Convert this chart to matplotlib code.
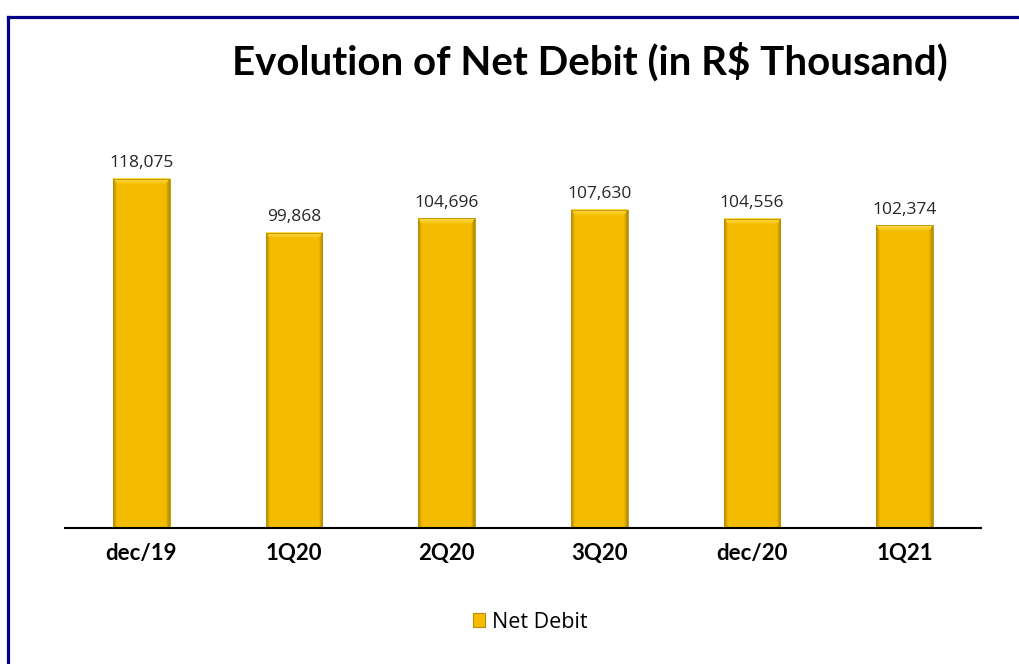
import matplotlib.pyplot as plt
import matplotlib.patches as mpatches
import numpy as np

periods = ['dec/19', '1Q20', '2Q20', '3Q20', 'dec/20', '1Q21']
net_debit = [118075, 99868, 104696, 107630, 104556, 102374]
labels = ['118,075', '99,868', '104,696', '107,630', '104,556', '102,374']

gold = '#F5BC00'

fig = plt.figure(figsize=(10.19, 6.64), dpi=100)
ax = fig.add_axes([65/1019, 136/664, 916/1019, 414/664])

x = np.arange(len(periods))
bars = ax.bar(x, net_debit, width=0.37, color=gold, edgecolor='#B98E00', linewidth=0.6, zorder=2)

# bevel look: darker sides, lighter top strip
for b in bars:
    nx, ny = 60, 300
    img = np.zeros((ny, nx, 4))
    base = np.array([0.96, 0.74, 0.0])
    img[:, :, :3] = base
    img[:, :, 3] = 1
    side = max(2, int(nx * 0.07))
    top = max(2, int(ny * 2300 / b.get_height()))
    for i in range(side):
        f = 0.75 + 0.25 * i / side
        img[:, i, :3] = base * f
        img[:, nx - 1 - i, :3] = base * f
    for j in range(top):
        f = j / top
        light = np.array([1.0, 0.86, 0.3]) * (1 - f) + base * f
        img[j, side - int(side * (1 - f)):nx - side + int(side * (1 - f)), :3] = light
    ax.imshow(img, extent=[b.get_x(), b.get_x() + b.get_width(), 0, b.get_height()],
              aspect='auto', origin='upper', zorder=3)
    b.set_zorder(4)
    b.set_facecolor('none')

for xi, v, lab in zip(x, net_debit, labels):
    ax.text(xi, v + 2600, lab, ha='center', va='bottom', fontsize=12.5,
            family='Open Sans', color='#262626')

ax.set_xlim(-0.5, len(periods) - 0.5)
ax.set_ylim(0, 140000)
ax.set_xticks(x)
ax.set_xticklabels(periods, fontsize=16, fontweight='bold', family='Lato')
ax.tick_params(axis='x', length=0, pad=11)
ax.set_yticks([])
for s in ['left', 'right', 'top']:
    ax.spines[s].set_visible(False)
ax.spines['bottom'].set_linewidth(1.5)
ax.spines['bottom'].set_zorder(5)

fig.text(590/1019, 1 - 62/664, r'Evolution of Net Debit (in R\$ Thousand)', ha='center', va='center',
         fontsize=29, fontweight='bold', family='Lato')

handle = mpatches.Patch(facecolor=gold, edgecolor='#B98E00', linewidth=0.8)
fig.legend([handle], ['Net Debit'], loc='center', bbox_to_anchor=(530/1019, 1 - 622/664),
           frameon=False, handlelength=0.6, handleheight=0.6, handletextpad=0.3,
           prop={'family': 'Open Sans', 'size': 15.5})

# dark blue frame on left and top
fig.add_artist(plt.Line2D([8/1019, 8/1019], [0, 1 - 17/664], color='#000088', linewidth=2.3))
fig.add_artist(plt.Line2D([8/1019, 1], [1 - 17/664, 1 - 17/664], color='#000088', linewidth=2.3))

fig.savefig('out.png', dpi=100)
